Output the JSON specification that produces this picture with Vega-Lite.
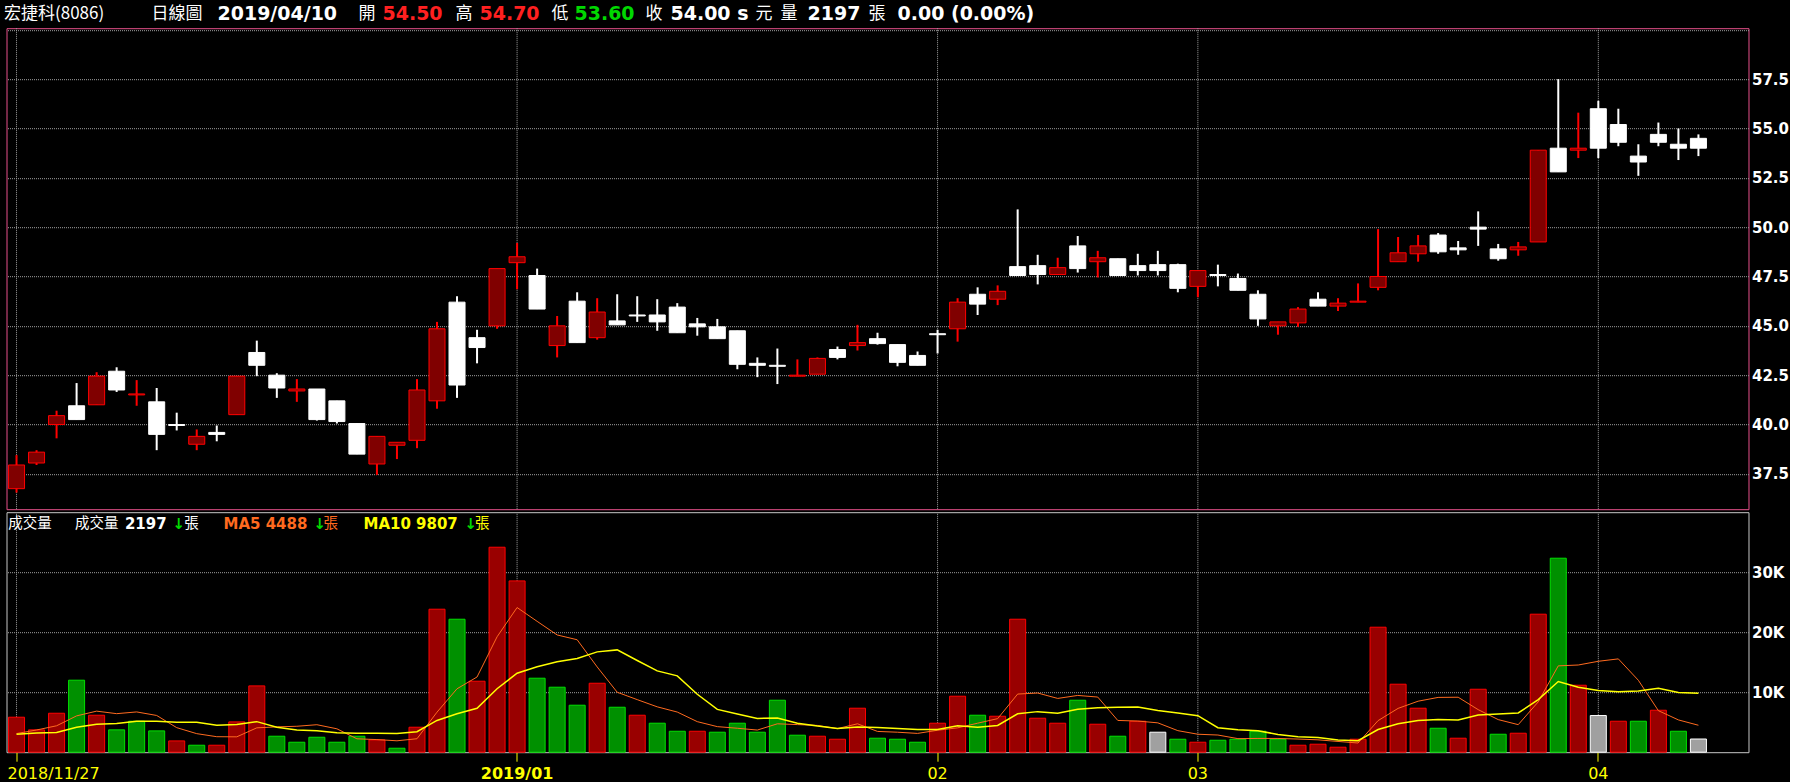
{
"$schema": "https://vega.github.io/schema/vega-lite/v6.json",
"background": "#000000",
"padding": {"left": 3.5, "top": 3.2, "right": 0, "bottom": 0},
"spacing": 3,
"bounds": "flush",
"config": {"view": {"stroke": null}, "font": "DejaVu Sans"},
"datasets": {
"k": [
{"d":"2018-11-27","open":36.75,"high":38.45,"low":36.55,"close":37.95,"vol":5830,"dir":"up","ma5":3100,"ma10":3000},
{"d":"2018-11-28","open":38.05,"high":38.70,"low":37.95,"close":38.60,"vol":3720,"dir":"up","ma5":3700,"ma10":3200},
{"d":"2018-11-29","open":40.00,"high":40.70,"low":39.30,"close":40.45,"vol":6490,"dir":"up","ma5":4400,"ma10":3300},
{"d":"2018-11-30","open":40.95,"high":42.10,"low":40.25,"close":40.25,"vol":12000,"dir":"down","ma5":6050,"ma10":4150},
{"d":"2018-12-03","open":41.00,"high":42.65,"low":41.00,"close":42.45,"vol":6160,"dir":"up","ma5":6840,"ma10":4650},
{"d":"2018-12-04","open":42.70,"high":42.90,"low":41.65,"close":41.75,"vol":3720,"dir":"down","ma5":6420,"ma10":4800},
{"d":"2018-12-05","open":41.50,"high":42.25,"low":40.95,"close":41.55,"vol":5160,"dir":"down","ma5":6710,"ma10":5150},
{"d":"2018-12-06","open":41.15,"high":41.85,"low":38.70,"close":39.50,"vol":3550,"dir":"down","ma5":6120,"ma10":5150},
{"d":"2018-12-07","open":40.00,"high":40.60,"low":39.70,"close":39.95,"vol":1880,"dir":"up","ma5":4090,"ma10":5000},
{"d":"2018-12-10","open":39.00,"high":39.75,"low":38.70,"close":39.40,"vol":1160,"dir":"down","ma5":3090,"ma10":4970},
{"d":"2018-12-11","open":39.60,"high":39.95,"low":39.15,"close":39.50,"vol":1160,"dir":"up","ma5":2580,"ma10":4500},
{"d":"2018-12-12","open":40.50,"high":42.45,"low":40.50,"close":42.45,"vol":5050,"dir":"up","ma5":2560,"ma10":4630},
{"d":"2018-12-13","open":43.65,"high":44.25,"low":42.45,"close":43.00,"vol":11050,"dir":"up","ma5":4060,"ma10":5090},
{"d":"2018-12-14","open":42.50,"high":42.60,"low":41.35,"close":41.85,"vol":2660,"dir":"down","ma5":4220,"ma10":4160},
{"d":"2018-12-17","open":41.70,"high":42.30,"low":41.15,"close":41.80,"vol":1660,"dir":"down","ma5":4320,"ma10":3710},
{"d":"2018-12-18","open":41.80,"high":41.80,"low":40.20,"close":40.25,"vol":2490,"dir":"down","ma5":4580,"ma10":3580},
{"d":"2018-12-19","open":41.20,"high":41.20,"low":40.05,"close":40.15,"vol":1660,"dir":"down","ma5":3900,"ma10":3230},
{"d":"2018-12-20","open":40.05,"high":40.05,"low":38.50,"close":38.50,"vol":2660,"dir":"down","ma5":2230,"ma10":3140},
{"d":"2018-12-21","open":38.00,"high":39.40,"low":37.45,"close":39.40,"vol":2050,"dir":"up","ma5":2100,"ma10":3160},
{"d":"2018-12-22","open":38.95,"high":39.10,"low":38.25,"close":39.10,"vol":660,"dir":"down","ma5":1900,"ma10":3110},
{"d":"2018-12-24","open":39.20,"high":42.30,"low":38.80,"close":41.75,"vol":4160,"dir":"up","ma5":2240,"ma10":3410},
{"d":"2018-12-25","open":41.20,"high":45.20,"low":40.80,"close":44.85,"vol":23830,"dir":"up","ma5":6670,"ma10":5290},
{"d":"2018-12-26","open":46.20,"high":46.50,"low":41.35,"close":42.00,"vol":22160,"dir":"down","ma5":10570,"ma10":6400},
{"d":"2018-12-27","open":44.40,"high":44.80,"low":43.10,"close":43.90,"vol":11830,"dir":"up","ma5":12530,"ma10":7320},
{"d":"2018-12-28","open":45.00,"high":47.90,"low":44.85,"close":47.90,"vol":34160,"dir":"up","ma5":19230,"ma10":10570},
{"d":"2019-01-02","open":48.20,"high":49.20,"low":46.85,"close":48.50,"vol":28550,"dir":"up","ma5":24110,"ma10":13170},
{"d":"2019-01-03","open":47.55,"high":47.90,"low":45.85,"close":45.85,"vol":12330,"dir":"down","ma5":21810,"ma10":14240},
{"d":"2019-01-04","open":44.00,"high":45.50,"low":43.40,"close":45.00,"vol":10830,"dir":"down","ma5":19540,"ma10":15060},
{"d":"2019-01-07","open":46.25,"high":46.70,"low":44.15,"close":44.15,"vol":7830,"dir":"down","ma5":18740,"ma10":15630},
{"d":"2019-01-08","open":44.40,"high":46.40,"low":44.30,"close":45.70,"vol":11490,"dir":"up","ma5":14210,"ma10":16720},
{"d":"2019-01-09","open":45.25,"high":46.60,"low":45.05,"close":45.05,"vol":7490,"dir":"down","ma5":9990,"ma10":17050},
{"d":"2019-01-10","open":45.55,"high":46.50,"low":45.20,"close":45.50,"vol":6160,"dir":"up","ma5":8760,"ma10":15280},
{"d":"2019-01-11","open":45.55,"high":46.35,"low":44.75,"close":45.20,"vol":4830,"dir":"down","ma5":7560,"ma10":13550},
{"d":"2019-01-14","open":45.95,"high":46.15,"low":44.65,"close":44.65,"vol":3490,"dir":"down","ma5":6690,"ma10":12720},
{"d":"2019-01-15","open":45.10,"high":45.40,"low":44.50,"close":44.95,"vol":3490,"dir":"up","ma5":5090,"ma10":9650},
{"d":"2019-01-16","open":44.95,"high":45.35,"low":44.35,"close":44.35,"vol":3330,"dir":"down","ma5":4260,"ma10":7130},
{"d":"2019-01-17","open":44.75,"high":44.75,"low":42.80,"close":43.05,"vol":4830,"dir":"down","ma5":3990,"ma10":6380},
{"d":"2019-01-18","open":43.10,"high":43.40,"low":42.40,"close":43.00,"vol":3330,"dir":"down","ma5":3690,"ma10":5630},
{"d":"2019-01-21","open":43.00,"high":43.85,"low":42.05,"close":42.95,"vol":8660,"dir":"down","ma5":4730,"ma10":5710},
{"d":"2019-01-22","open":42.45,"high":43.30,"low":42.45,"close":42.50,"vol":2830,"dir":"down","ma5":4600,"ma10":4840},
{"d":"2019-01-23","open":42.55,"high":43.40,"low":42.55,"close":43.35,"vol":2660,"dir":"up","ma5":4460,"ma10":4360},
{"d":"2019-01-24","open":43.80,"high":43.95,"low":43.30,"close":43.40,"vol":2160,"dir":"up","ma5":3930,"ma10":3960},
{"d":"2019-01-25","open":44.00,"high":45.05,"low":43.75,"close":44.15,"vol":7330,"dir":"up","ma5":4730,"ma10":4210},
{"d":"2019-01-28","open":44.35,"high":44.65,"low":44.05,"close":44.10,"vol":2330,"dir":"down","ma5":3460,"ma10":4100},
{"d":"2019-01-29","open":44.05,"high":44.05,"low":42.95,"close":43.15,"vol":2160,"dir":"down","ma5":3330,"ma10":3960},
{"d":"2019-01-30","open":43.50,"high":43.70,"low":43.00,"close":43.00,"vol":1660,"dir":"down","ma5":3130,"ma10":3800},
{"d":"2019-02-11","open":44.60,"high":44.80,"low":43.60,"close":44.55,"vol":4830,"dir":"up","ma5":3660,"ma10":3800},
{"d":"2019-02-12","open":44.85,"high":46.40,"low":44.20,"close":46.20,"vol":9330,"dir":"up","ma5":4060,"ma10":4400},
{"d":"2019-02-13","open":46.60,"high":46.95,"low":45.55,"close":46.10,"vol":6160,"dir":"down","ma5":4830,"ma10":4150},
{"d":"2019-02-14","open":46.35,"high":47.05,"low":46.05,"close":46.75,"vol":5990,"dir":"up","ma5":5590,"ma10":4460},
{"d":"2019-02-15","open":48.00,"high":50.90,"low":47.55,"close":47.55,"vol":22160,"dir":"up","ma5":9690,"ma10":6410},
{"d":"2019-02-18","open":48.05,"high":48.60,"low":47.10,"close":47.60,"vol":5660,"dir":"up","ma5":9860,"ma10":6760},
{"d":"2019-02-19","open":47.60,"high":48.45,"low":47.60,"close":47.95,"vol":4830,"dir":"up","ma5":8960,"ma10":6510},
{"d":"2019-02-20","open":49.05,"high":49.55,"low":47.70,"close":47.90,"vol":8660,"dir":"down","ma5":9460,"ma10":7140},
{"d":"2019-02-21","open":48.25,"high":48.80,"low":47.45,"close":48.45,"vol":4660,"dir":"up","ma5":9190,"ma10":7390},
{"d":"2019-02-22","open":48.40,"high":48.40,"low":47.55,"close":47.55,"vol":2660,"dir":"down","ma5":5290,"ma10":7490},
{"d":"2019-02-25","open":48.05,"high":48.65,"low":47.55,"close":47.80,"vol":5160,"dir":"up","ma5":5190,"ma10":7530},
{"d":"2019-02-26","open":48.10,"high":48.80,"low":47.55,"close":47.80,"vol":3330,"dir":"flat","ma5":4890,"ma10":6930},
{"d":"2019-02-27","open":48.10,"high":48.15,"low":46.70,"close":46.90,"vol":2160,"dir":"down","ma5":3590,"ma10":6530},
{"d":"2019-03-04","open":47.00,"high":47.80,"low":46.45,"close":47.80,"vol":1660,"dir":"up","ma5":2990,"ma10":6090},
{"d":"2019-03-05","open":47.60,"high":48.10,"low":47.00,"close":47.55,"vol":1990,"dir":"down","ma5":2860,"ma10":4080},
{"d":"2019-03-06","open":47.40,"high":47.65,"low":46.80,"close":46.80,"vol":2160,"dir":"down","ma5":2260,"ma10":3730},
{"d":"2019-03-07","open":46.60,"high":46.80,"low":45.00,"close":45.35,"vol":3490,"dir":"down","ma5":2290,"ma10":3590},
{"d":"2019-03-08","open":45.00,"high":45.20,"low":44.55,"close":45.20,"vol":2160,"dir":"down","ma5":2290,"ma10":2940},
{"d":"2019-03-11","open":45.15,"high":45.95,"low":44.95,"close":45.85,"vol":1160,"dir":"up","ma5":2190,"ma10":2590},
{"d":"2019-03-12","open":46.35,"high":46.70,"low":46.00,"close":46.00,"vol":1330,"dir":"up","ma5":2060,"ma10":2460},
{"d":"2019-03-13","open":46.00,"high":46.40,"low":45.75,"close":46.15,"vol":830,"dir":"up","ma5":1790,"ma10":2030},
{"d":"2019-03-14","open":46.20,"high":47.15,"low":46.20,"close":46.25,"vol":2160,"dir":"up","ma5":1530,"ma10":1910},
{"d":"2019-03-15","open":46.95,"high":49.90,"low":46.80,"close":47.50,"vol":20830,"dir":"up","ma5":5260,"ma10":3780},
{"d":"2019-03-18","open":48.25,"high":49.50,"low":48.25,"close":48.70,"vol":11330,"dir":"up","ma5":7300,"ma10":4740},
{"d":"2019-03-19","open":48.65,"high":49.60,"low":48.25,"close":49.05,"vol":7330,"dir":"up","ma5":8500,"ma10":5280},
{"d":"2019-03-20","open":49.60,"high":49.70,"low":48.65,"close":48.75,"vol":3990,"dir":"down","ma5":9130,"ma10":5460},
{"d":"2019-03-21","open":48.95,"high":49.30,"low":48.60,"close":48.85,"vol":2330,"dir":"up","ma5":9160,"ma10":5350},
{"d":"2019-03-22","open":50.00,"high":50.80,"low":49.05,"close":49.90,"vol":10490,"dir":"up","ma5":7090,"ma10":6180},
{"d":"2019-03-25","open":48.90,"high":49.15,"low":48.30,"close":48.40,"vol":2990,"dir":"down","ma5":5430,"ma10":6360},
{"d":"2019-03-26","open":48.85,"high":49.25,"low":48.55,"close":49.00,"vol":3160,"dir":"up","ma5":4590,"ma10":6540},
{"d":"2019-03-27","open":49.25,"high":53.90,"low":49.25,"close":53.90,"vol":23000,"dir":"up","ma5":8390,"ma10":8760},
{"d":"2019-03-28","open":54.00,"high":57.50,"low":52.80,"close":52.80,"vol":32330,"dir":"down","ma5":14390,"ma10":11780},
{"d":"2019-03-29","open":53.90,"high":55.80,"low":53.50,"close":54.00,"vol":11160,"dir":"up","ma5":14530,"ma10":10810},
{"d":"2019-04-01","open":56.00,"high":56.40,"low":53.50,"close":54.00,"vol":6110,"dir":"flat","ma5":15150,"ma10":10290},
{"d":"2019-04-02","open":55.20,"high":56.00,"low":54.10,"close":54.30,"vol":5160,"dir":"up","ma5":15550,"ma10":10070},
{"d":"2019-04-03","open":53.60,"high":54.20,"low":52.60,"close":53.30,"vol":5160,"dir":"down","ma5":11980,"ma10":10190},
{"d":"2019-04-08","open":54.70,"high":55.30,"low":54.10,"close":54.30,"vol":6990,"dir":"up","ma5":6920,"ma10":10660},
{"d":"2019-04-09","open":54.20,"high":55.00,"low":53.40,"close":54.00,"vol":3490,"dir":"down","ma5":5380,"ma10":9960},
{"d":"2019-04-10","open":54.50,"high":54.70,"low":53.60,"close":54.00,"vol":2197,"dir":"flat","ma5":4488,"ma10":9807}
],
"ticks": [{"d":"2018-11-27"},{"d":"2019-01-02"},{"d":"2019-02-11"},{"d":"2019-03-04"},{"d":"2019-04-01"}],
"hdr": [
{"seq":0,"t":"宏捷科(8086)","tone":"lab"},
{"seq":1,"t":"日線圖","tone":"lab"},
{"seq":2,"t":"2019/04/10","tone":"val"},
{"seq":3,"t":"開","tone":"lab"},
{"seq":4,"t":"54.50","tone":"rise"},
{"seq":5,"t":"高","tone":"lab"},
{"seq":6,"t":"54.70","tone":"rise"},
{"seq":7,"t":"低","tone":"lab"},
{"seq":8,"t":"53.60","tone":"fall"},
{"seq":9,"t":"收","tone":"lab"},
{"seq":10,"t":"54.00 s","tone":"val"},
{"seq":11,"t":"元","tone":"lab"},
{"seq":12,"t":"量","tone":"lab"},
{"seq":13,"t":"2197","tone":"val"},
{"seq":14,"t":"張","tone":"lab"},
{"seq":15,"t":"0.00 (0.00%)","tone":"val"}
],
"vhdr": [
{"seq":0,"t":"成交量","tone":"lab"},
{"seq":1,"t":"成交量","tone":"lab"},
{"seq":2,"t":"2197","tone":"val"},
{"seq":3,"t":"↓","tone":"arrow"},
{"seq":4,"t":"張","tone":"lab"},
{"seq":5,"t":"MA5 4488","tone":"ma5"},
{"seq":6,"t":"↓","tone":"arrow"},
{"seq":7,"t":"張","tone":"ma5u"},
{"seq":8,"t":"MA10 9807","tone":"ma10"},
{"seq":9,"t":"↓","tone":"arrow"},
{"seq":10,"t":"張","tone":"ma10u"}
]
},
"vconcat": [
{
"width": 1742,
"height": 481,
"view": {"stroke": "#e8508c", "strokeWidth": 1},
"resolve": {"scale": {"x": "independent"}},
"layer": [
{
"data": {"name": "k"},
"encoding": {"x": {"field": "d", "type": "ordinal", "scale": {"type": "band", "paddingInner": 0, "paddingOuter": 1.05, "align": 0}, "axis": null}},
"layer": [
{"data": {"name": "ticks"}, "mark": {"type": "rule", "color": "#a0a0a0", "strokeWidth": 1, "strokeDash": [1, 1]}, "encoding": {}},
{"mark": {"type": "rule", "strokeWidth": 2},
 "encoding": {
  "y": {"field": "low", "type": "quantitative", "scale": {"domain": [35.71, 60.08], "nice": false, "zero": false},
        "axis": {"orient": "right", "values": [37.5, 40, 42.5, 45, 47.5, 50, 52.5, 55, 57.5, 60], "labelExpr": "datum.value >= 60 ? '' : format(datum.value, '.1f')", "grid": true, "gridColor": "#a0a0a0", "gridDash": [1, 1], "gridWidth": 1, "ticks": false, "domain": false, "labelPadding": 3, "labelColor": "#ffffff", "labelFont": "DejaVu Sans", "labelFontWeight": "bold", "labelFontSize": 15, "labelOverlap": false, "title": null}},
  "y2": {"field": "high"},
  "color": {"condition": {"test": "datum.close >= datum.open", "value": "#ff0000"}, "value": "#ffffff"}
 }},
{"mark": {"type": "bar", "width": {"band": 0.8}, "strokeWidth": 1},
 "encoding": {
  "y": {"field": "open", "type": "quantitative", "scale": {"domain": [35.71, 60.08], "nice": false, "zero": false}},
  "y2": {"field": "close"},
  "fill": {"condition": {"test": "datum.close >= datum.open", "value": "#800000"}, "value": "#ffffff"},
  "stroke": {"condition": {"test": "datum.close >= datum.open", "value": "#ff0000"}, "value": "#ffffff"}
 }}
]
},
{
"data": {"name": "hdr"},
"encoding": {
 "x": {"field": "seq", "type": "quantitative", "scale": {"domain": [0,1,2,3,4,5,6,7,8,9,10,11,12,13,14,15], "range": [-2.5,145,211,352,376,449,473,545,568,639,664,749,774,801,862,891], "nice": false, "zero": false}, "axis": null},
 "y": {"datum": 60.824, "type": "quantitative", "scale": {"domain": [35.71, 60.08], "nice": false, "zero": false}},
 "text": {"field": "t", "type": "nominal"},
 "color": {"field": "tone", "type": "nominal", "scale": {"domain": ["lab","val","rise","fall","arrow","ma5","ma5u","ma10","ma10u"], "range": ["#ffffff","#ffffff","#ff2020","#00d800","#00d800","#ff6a1f","#ff6a1f","#ffff00","#ffff00"]}, "legend": null}
},
"layer": [
{"transform": [{"filter": "datum.tone !== 'lab'"}], "mark": {"type": "text", "align": "left", "baseline": "middle", "font": "DejaVu Sans", "fontWeight": "bold", "fontSize": 19}},
{"transform": [{"filter": "datum.tone === 'lab'"}], "mark": {"type": "text", "align": "left", "baseline": "middle", "font": "Noto Sans CJK TC", "fontSize": 17}}
]
}
]
},
{
"width": 1742,
"height": 240,
"view": {"stroke": "#c8c8c8", "strokeWidth": 1},
"resolve": {"scale": {"x": "independent"}},
"layer": [
{
"data": {"name": "k"},
"encoding": {"x": {"field": "d", "type": "ordinal", "scale": {"type": "band", "paddingInner": 0, "paddingOuter": 1.05, "align": 0},
  "axis": {"values": ["2018-11-27","2019-01-02","2019-02-11","2019-03-04","2019-04-01"],
   "labelExpr": "datum.value == '2018-11-27' ? '2018/11/27' : datum.value == '2019-01-02' ? '2019/01' : datum.value == '2019-02-11' ? '02' : datum.value == '2019-03-04' ? '03' : '04'",
   "labelColor": "#ffff00", "labelFont": "DejaVu Sans", "labelFontSize": 16,
   "labelFontWeight": {"condition": {"test": "datum.value == '2019-01-02'", "value": "bold"}, "value": "normal"},
   "labelAngle": 0, "labelFlush": 12, "labelFlushOffset": 9, "labelOverlap": false, "labelPadding": 4,
   "tickColor": "#ffff00", "tickSize": 9, "tickWidth": 1, "bandPosition": 0.5,
   "domain": false, "grid": false, "title": null}}},
"layer": [
{"data": {"name": "ticks"}, "mark": {"type": "rule", "color": "#a0a0a0", "strokeWidth": 1, "strokeDash": [1, 1]}, "encoding": {}},
{"mark": {"type": "bar", "width": {"band": 0.8}, "strokeWidth": 1},
 "encoding": {
  "y": {"field": "vol", "type": "quantitative", "scale": {"domain": [0, 40000], "nice": false},
        "axis": {"orient": "right", "values": [10000, 20000, 30000], "labelExpr": "(datum.value / 1000) + 'K'", "grid": true, "gridColor": "#a0a0a0", "gridDash": [1, 1], "gridWidth": 1, "ticks": false, "domain": false, "labelPadding": 3, "labelColor": "#ffffff", "labelFont": "DejaVu Sans", "labelFontWeight": "bold", "labelFontSize": 15, "title": null}},
  "fill": {"condition": [{"test": "datum.dir === 'up'", "value": "#990000"}, {"test": "datum.dir === 'down'", "value": "#009000"}], "value": "#a0a0a0"},
  "stroke": {"condition": [{"test": "datum.dir === 'up'", "value": "#ff0000"}, {"test": "datum.dir === 'down'", "value": "#00e000"}], "value": "#ffffff"}
 }},
{"mark": {"type": "line", "color": "#ff6a1f", "strokeWidth": 1},
 "encoding": {"y": {"field": "ma5", "type": "quantitative", "scale": {"domain": [0, 40000], "nice": false}}}},
{"mark": {"type": "line", "color": "#ffff00", "strokeWidth": 1.5},
 "encoding": {"y": {"field": "ma10", "type": "quantitative", "scale": {"domain": [0, 40000], "nice": false}}}}
]
},
{
"data": {"name": "vhdr"},
"encoding": {
 "x": {"field": "seq", "type": "quantitative", "scale": {"domain": [0,1,2,3,4,5,6,7,8,9,10], "range": [1.7,68.6,118.4,166,177.7,217,307,317,357,458,468.5], "nice": false, "zero": false}, "axis": null},
 "y": {"datum": 37970, "type": "quantitative", "scale": {"domain": [0, 40000], "nice": false}},
 "text": {"field": "t", "type": "nominal"},
 "color": {"field": "tone", "type": "nominal", "scale": {"domain": ["lab","val","rise","fall","arrow","ma5","ma5u","ma10","ma10u"], "range": ["#ffffff","#ffffff","#ff2020","#00d800","#00d800","#ff6a1f","#ff6a1f","#ffff00","#ffff00"]}, "legend": null}
},
"layer": [
{"transform": [{"filter": "datum.tone !== 'lab' && datum.tone !== 'ma5u' && datum.tone !== 'ma10u'"}], "mark": {"type": "text", "align": "left", "baseline": "middle", "font": "DejaVu Sans", "fontWeight": "bold", "fontSize": 15}},
{"transform": [{"filter": "datum.tone === 'lab' || datum.tone === 'ma5u' || datum.tone === 'ma10u'"}], "mark": {"type": "text", "align": "left", "baseline": "middle", "font": "Noto Sans CJK TC", "fontSize": 14.5}}
]
}
]
}
]
}
